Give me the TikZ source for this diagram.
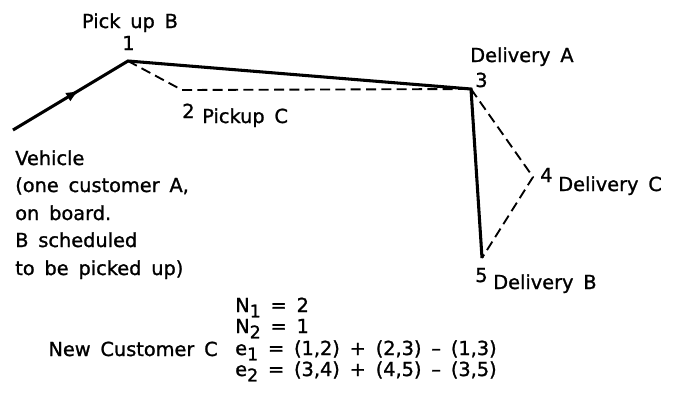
\documentclass[tikz,border=0pt]{standalone}
\usepackage{fontspec}
\setmainfont{DejaVu Sans}[WordSpace=1.6, FakeBold=1.2]
\usetikzlibrary{arrows.meta, decorations.markings}
\newcommand{\lowidx}[1]{\raisebox{-0.5ex}{\fontsize{13}{13}\selectfont #1}}

\begin{document}
\begin{tikzpicture}[
  x=0.75pt, y=-0.75pt,
  font=\fontsize{14.5}{17}\selectfont,
  lbl/.style={inner sep=0pt, anchor=base},
  lblw/.style={inner sep=0pt, anchor=base west},
  route/.style={line width=2.3pt},
  detour/.style={line width=1.4pt, dash pattern=on 7.5pt off 4pt},
  midarrow/.style={postaction={decorate}, decoration={markings,
      mark=at position 58pt with {\arrow{Latex[length=10pt,width=7.5pt]}}}}
]

\useasboundingbox (0,0) rectangle (677,400);

% =========================================================
% STOPS
% =========================================================

\coordinate (start) at (13,130);
\coordinate (s1) at (128,61);
\coordinate (s2) at (182,90);
\coordinate (s3) at (471,89);
\coordinate (s4) at (533,177);
\coordinate (s5) at (482,258);

% planned route of the vehicle
\draw[route, midarrow] (start) -- (s1) -- (s3) -- (s5);

% route with new customer C inserted
\draw[detour] (s1) -- (s2) -- (s3);
\draw[detour] (s3) -- (s4) -- (s5);

% =========================================================
% STOP LABELS
% =========================================================

\node[lbl] (pickB) at (130,28) {Pick up B};
\node[lbl] (n1) at (128.5,50) {1};

\node[lblw] (n2) at (182,118) {2};
\node[lblw] (pickC) at (202,123) {Pickup C};

\node[lblw] (delA) at (470,62) {Delivery A};
\node[lblw] (n3) at (475,87) {3};

\node[lblw] (n4) at (540,182) {4};
\node[lblw] (delC) at (558,191) {Delivery C};

\node[lblw] (n5) at (475,282) {5};
\node[lblw] (delB) at (493,289) {Delivery B};

% =========================================================
% VEHICLE NOTE
% =========================================================

\foreach \i/\y/\txt in {
  1/165/{Vehicle},
  2/192/{(one customer A,},
  3/220/{on board.},
  4/247/{B scheduled},
  5/275/{to be picked up)}
}{
  \node[lblw] (veh\i) at (15,\y) {\txt};
}

% =========================================================
% NEW CUSTOMER
% =========================================================

\node[inner sep=0pt, anchor=base east] (newC) at (218,356) {New Customer C};

\foreach \i/\y/\txt in {
  1/312/{N\lowidx{1} = 2},
  2/333/{N\lowidx{2} = 1},
  3/355/{e\lowidx{1} = (1,2) + (2,3) -- (1,3)},
  4/376/{e\lowidx{2} = (3,4) + (4,5) -- (3,5)}
}{
  \node[lblw] (eq\i) at (235,\y) {\txt};
}

\end{tikzpicture}
\end{document}
